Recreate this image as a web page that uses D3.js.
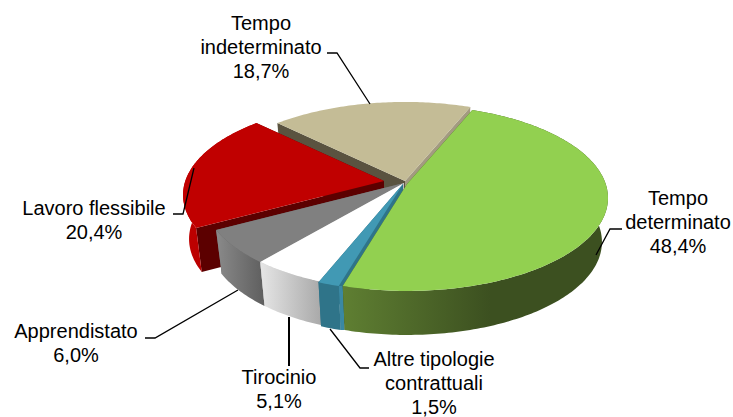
<!DOCTYPE html>
<html lang="en">
<head>
  <meta charset="UTF-8">
  <title>Tipologie contrattuali</title>
  <script src="https://d3js.org/d3.v7.min.js"></script>
  <style>
    html, body { margin: 0; padding: 0; background: #fff; }
    text { font-family: "Liberation Sans", Arial, sans-serif; font-size: 20px; fill: #000; }
  </style>
</head>
<body>
<div id="chartID"></div>
<script>
  // values as printed on the labels, clockwise from the top right
  var categories = ["Tempo determinato", "Altre tipologie contrattuali", "Tirocinio", "Apprendistato", "Lavoro flessibile", "Tempo indeterminato"];
  var values = [48.4, 1.5, 5.1, 6.0, 20.4, 18.7];
  var valueLabels = ["48,4%", "1,5%", "5,1%", "6,0%", "20,4%", "18,7%"];

  var topColors = ["#92d050", "#4199b4", "#ffffff", "#808080", "#c00000", "#c4bc96"];
  var startFace = ["#3c5020", "#3a88a3", "#bbbbbb", "#666666", "#5c0000", "#5a5340"];
  var endFace = ["#3c5020", "#2f7489", "#bbbbbb", "#666666", "#5c0000", "#a39a80"];
  var wallLeft = ["#5f7f32", "#2f7489", "#e6e6e6", "#8a8a8a", "#c00000", "#5a5340"];
  var wallRight = ["#3c5020", "#2f7489", "#a8a8a8", "#5e5e5e", "#a80000", "#5a5340"];

  // how far each slice is pulled out of the pie, px
  var shiftX = [3, -1, 0, 0, -20, 1];
  var shiftY = [1, 1, 0, 0, -2, -2];
  var drawOrder = [5, 4, 3, 2, 1, 0];

  var width = 733, height = 417;
  var apexX = 404, apexY = 183, depth = 44;
  var scaleX = 198.7, scaleY = 90.9, persp = 0.15;

  var svg = d3.select("#chartID").append("svg")
    .attr("width", width)
    .attr("height", height)
    .style("display", "block");
  var defs = svg.append("defs");

  var pie = d3.pie().sort(null).startAngle(22 * Math.PI / 180).endAngle((360 + 22) * Math.PI / 180);
  var slices = pie(values);

  // a point on the disc (angle clockwise from up, radius 0..1) seen in perspective
  function project(a, r, lower, i) {
    var X = Math.sin(a) * r, Y = Math.cos(a) * r;
    var w = 1 + persp * Y;
    var kx = lower ? 0.97 : 1;
    return [apexX + shiftX[i] + kx * scaleX * X / w,
            apexY + shiftY[i] + (lower ? depth : 0) - scaleY * Y / w];
  }

  var line = d3.line();

  function rim(d, lower, i) {
    var n = Math.max(2, Math.ceil((d.endAngle - d.startAngle) * 60));
    return d3.range(n + 1).map(function(k) {
      var a = d.startAngle + (d.endAngle - d.startAngle) * k / n;
      return project(a, 1, lower, i);
    });
  }

  drawOrder.forEach(function(i) {
    var d = slices[i];
    var g = svg.append("g").attr("class", "slice");
    var top = rim(d, false, i), bottom = rim(d, true, i);

    // cut faces
    g.append("path")
      .attr("d", line([project(0, 0, false, i), top[0], bottom[0], project(0, 0, true, i)]) + "Z")
      .attr("fill", startFace[i]);
    g.append("path")
      .attr("d", line([project(0, 0, false, i), top[top.length - 1], bottom[bottom.length - 1], project(0, 0, true, i)]) + "Z")
      .attr("fill", endFace[i]);

    // closes the gap left between the blue wall and the green one
    if (i == 1) {
      g.append("path")
        .attr("d", line([top[0], project(d.startAngle, 1, false, 0), project(d.startAngle, 1, true, 0), bottom[0]]) + "Z")
        .attr("fill", startFace[i]);
    }

    // outer wall with a left to right shade, only on slices that reach the near side
    if (d.startAngle < 1.5 * Math.PI) {
      var xs = top.concat(bottom).map(function(p) { return p[0]; });
      var grad = defs.append("linearGradient")
        .attr("id", "wall" + i)
        .attr("gradientUnits", "userSpaceOnUse")
        .attr("x1", d3.min(xs)).attr("x2", i == 0 ? 490 : d3.max(xs))
        .attr("y1", 0).attr("y2", 0);
      grad.append("stop").attr("offset", 0).attr("stop-color", wallLeft[i]);
      grad.append("stop").attr("offset", 1).attr("stop-color", wallRight[i]);
      g.append("path")
        .attr("d", line(top.concat(bottom.slice().reverse())) + "Z")
        .attr("fill", "url(#wall" + i + ")");
    }

    // top face
    g.append("path")
      .attr("d", line([project(0, 0, false, i)].concat(top)) + "Z")
      .attr("fill", topColors[i]);
  });

  // leader lines
  var leaders = [
    [[622, 229], [610, 229], [596, 255]],
    [[369, 368], [360, 368], [330, 329]],
    [[289, 366], [289, 317]],
    [[145, 338], [155, 338], [238, 290]],
    [[173, 214], [183, 214], [194, 168]],
    [[327, 53], [337, 53], [370, 104]]
  ];
  var leaderWidth = [1.3, 1.3, 2, 1.3, 1.3, 1.3];
  leaders.forEach(function(l, i) {
    svg.append("path")
      .attr("d", line(l))
      .attr("fill", "none")
      .attr("stroke", "#000")
      .attr("stroke-width", leaderWidth[i]);
  });

  // labels
  var labelLines = [
    ["Tempo", "determinato", valueLabels[0]],
    ["Altre tipologie", "contrattuali", valueLabels[1]],
    [categories[2], valueLabels[2]],
    [categories[3], valueLabels[3]],
    [categories[4], valueLabels[4]],
    ["Tempo", "indeterminato", valueLabels[5]]
  ];
  var labelX = [678, 434, 279, 76, 94, 261];
  var labelY = [205, 366, 384, 338, 215, 30];
  var lineGap = 24;

  svg.selectAll("text.label")
    .data(labelLines)
    .enter()
    .append("text")
    .attr("class", "label")
    .attr("text-anchor", "middle")
    .attr("x", function(d, i) { return labelX[i]; })
    .attr("y", function(d, i) { return labelY[i]; })
    .each(function(d, i) {
      d3.select(this).selectAll("tspan")
        .data(d)
        .enter()
        .append("tspan")
        .attr("x", labelX[i])
        .attr("dy", function(t, k) { return k ? lineGap : 0; })
        .text(function(t) { return t; });
    });
</script>
</body>
</html>
